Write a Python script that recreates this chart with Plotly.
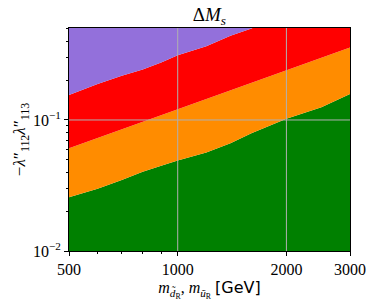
import plotly.graph_objects as go

# ---- data ----
mass = [500, 600, 700, 800, 900, 1000, 1200, 1400, 1600, 1800, 2000, 2500, 3000]
green_upper = [0.0257, 0.0299, 0.0348, 0.0403, 0.0448, 0.0490, 0.0564, 0.0663,
               0.0791, 0.0910, 0.1024, 0.1250, 0.1578]
orange_upper = [0.0609, 0.0729, 0.0848, 0.0966, 0.1085, 0.1205, 0.144, 0.168,
                0.191, 0.215, 0.238, 0.297, 0.357]
red_upper = [0.155, 0.188, 0.218, 0.243, 0.275, 0.312, 0.365, 0.44, 0.50,
             0.56, 0.62, 0.77, 0.93]
floor_value = 0.001
ceiling_value = 2.0

x_ticks = [500, 1000, 2000, 3000]
x_ticktext = ["500", "1000", "2000", "3000"]
x_minor = [600, 700, 800, 900]
y_ticks = [0.01, 0.1]
y_ticktext = ["10<sup>−2</sup>", "10<sup>−1</sup>"]
y_minor = [0.02, 0.03, 0.04, 0.05, 0.06, 0.07, 0.08, 0.09, 0.2, 0.3, 0.4, 0.5]
x_grid = [1000, 2000]
y_grid = [0.1]

colors = {"green": "#008000", "orange": "#FF8C00", "red": "#FF0000", "purple": "#9370DB"}

SERIF = "Liberation Serif, Times New Roman, serif"

fig = go.Figure()
fig.add_trace(go.Scatter(x=mass, y=[floor_value] * len(mass), mode="lines",
                         line=dict(width=0), hoverinfo="skip", showlegend=False))
for vals, col in [(green_upper, colors["green"]), (orange_upper, colors["orange"]),
                  (red_upper, colors["red"]), ([ceiling_value] * len(mass), colors["purple"])]:
    fig.add_trace(go.Scatter(x=mass, y=vals, mode="lines", line=dict(width=0),
                             fill="tonexty", fillcolor=col, showlegend=False,
                             hoverinfo="skip"))

# grid lines on top of the filled regions
for gx in x_grid:
    fig.add_trace(go.Scatter(x=[gx, gx], y=[floor_value, ceiling_value], mode="lines",
                             line=dict(color="#b0b0b0", width=1), showlegend=False,
                             hoverinfo="skip"))
for gy in y_grid:
    fig.add_trace(go.Scatter(x=[mass[0] * 0.5, mass[-1] * 2], y=[gy, gy], mode="lines",
                             line=dict(color="#b0b0b0", width=1), showlegend=False,
                             hoverinfo="skip"))

fig.update_layout(
    width=374, height=307,
    margin=dict(l=69, r=24, t=28, b=56, autoexpand=False),
    paper_bgcolor="white", plot_bgcolor="white",
    font=dict(family=SERIF, size=16, color="black"),
    title=dict(text="Δ<i>M</i><sub><i>s</i></sub>", x=0.56, xanchor="center",
               y=1 - 14 / 307, yanchor="middle", yref="container",
               font=dict(family=SERIF, size=19, color="black")),
)
fig.update_xaxes(
    type="log", range=[2.69897, 3.47712], automargin=False,
    tickvals=x_ticks, ticktext=x_ticktext,
    ticks="outside", ticklen=4, tickwidth=1, tickcolor="black",
    minor=dict(tickvals=x_minor, ticks="outside", ticklen=2, tickcolor="black", showgrid=False),
    showgrid=False, zeroline=False,
    showline=True, linecolor="black", linewidth=1, mirror=True, layer="above traces",
    tickfont=dict(family=SERIF, size=16),
    title=dict(text="<i>m</i><sub><i>d̃</i><sub>R</sub></sub>, <i>m</i><sub><i>ũ</i><sub>R</sub></sub> "
                    "<span style='font-family:DejaVu Sans'>[GeV]</span>",
               font=dict(family=SERIF, size=16), standoff=2),
)
fig.update_yaxes(
    type="log", range=[-2, -0.298], automargin=False,
    tickvals=y_ticks, ticktext=y_ticktext,
    ticks="outside", ticklen=4, tickwidth=1, tickcolor="black",
    minor=dict(tickvals=y_minor, ticks="outside", ticklen=2, tickcolor="black", showgrid=False),
    showgrid=False, zeroline=False,
    showline=True, linecolor="black", linewidth=1, mirror=True, layer="above traces",
    tickfont=dict(family=SERIF, size=16),
    title=dict(text="−<i>λ</i>″<sub>112</sub><i>λ</i>″<sub>113</sub>",
               font=dict(family=SERIF, size=17), standoff=2),
)

fig.write_html("out.html", post_script="document.body.style.margin='0px';",
               config={"displayModeBar": False})
